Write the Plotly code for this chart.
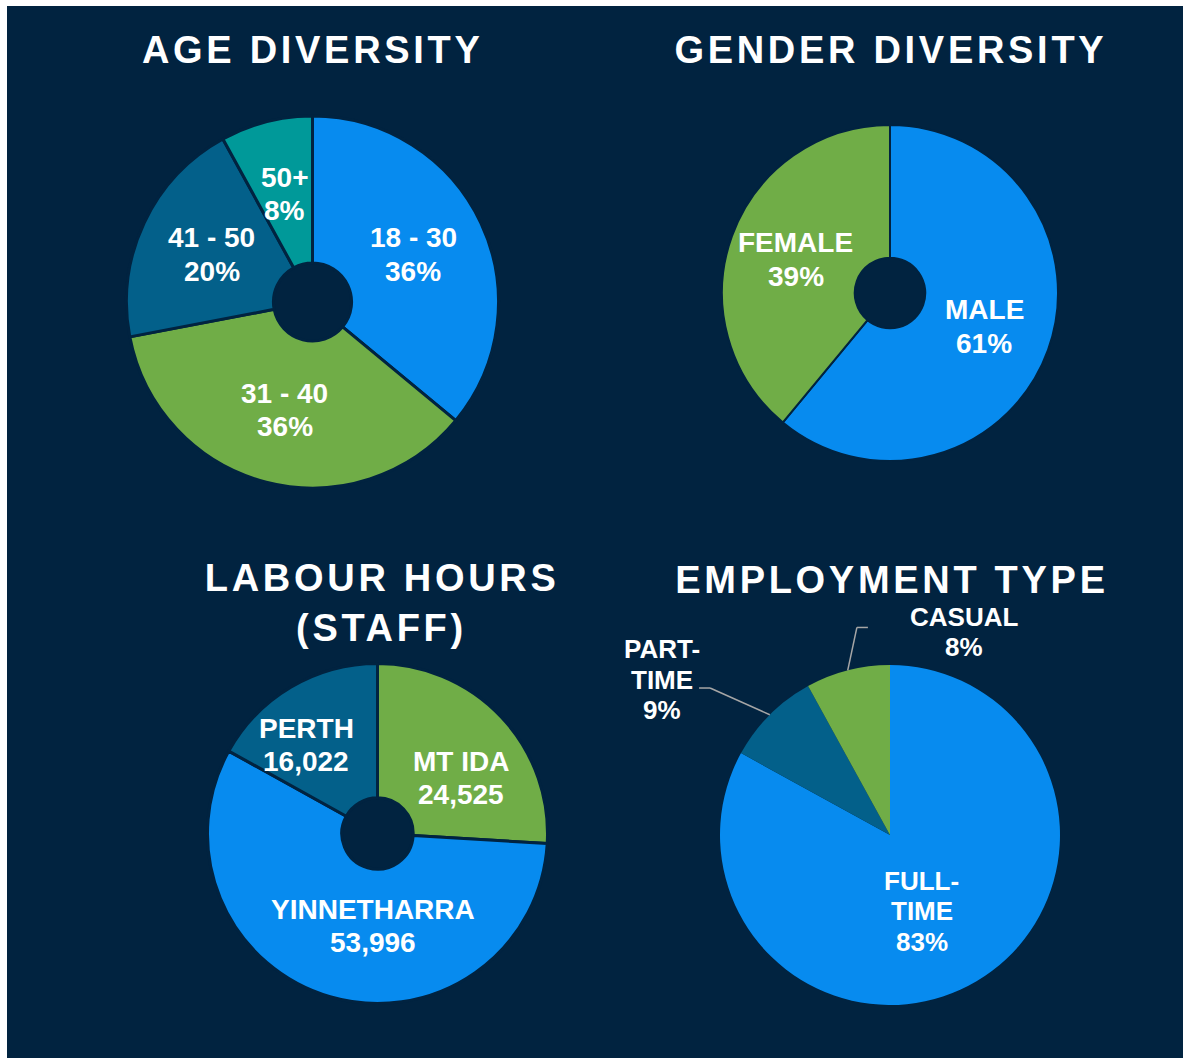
import math
import plotly.graph_objects as go

W, H = 1183, 1058

# ---------------- data ----------------
age_labels = ["18 - 30", "31 - 40", "41 - 50", "50+"]
age_values = [36, 36, 20, 8]

gender_labels = ["MALE", "FEMALE"]
gender_values = [61, 39]

labour_labels = ["MT IDA", "YINNETHARRA", "PERTH"]
labour_values = [24525, 53996, 16022]

emp_labels = ["FULL-TIME", "PART-TIME", "CASUAL"]
emp_values = [83, 9, 8]

# ---------------- style ----------------
BG = "#012340"
BLUE = "#078BEF"
GREEN = "#70AD47"
DARK = "#03608A"
TEAL = "#009999"
FONT = "Arial, 'Liberation Sans', sans-serif"


def pct_text(vals):
    s = sum(vals)
    return [f"{v / s * 100:.0f}%" for v in vals]


def num_text(vals):
    return [f"{v:,}" for v in vals]


def split_hyphen(name):
    if "-" in name and " - " not in name:
        a, b = name.split("-", 1)
        return [a + "-", b]
    return [name]


charts = [
    dict(title=["AGE DIVERSITY"], title_pos=(313, 50),
         labels=age_labels, values=age_values, vtext=pct_text(age_values),
         colors=[BLUE, GREEN, DARK, TEAL], center=(312.5, 302), r=184.5,
         hole=0.21, lw=3, fsize=28, spacing=33.5,
         place=[None, None, None, None], rfrac=0.605),
    dict(title=["GENDER DIVERSITY"], title_pos=(891, 50),
         labels=gender_labels, values=gender_values, vtext=pct_text(gender_values),
         colors=[BLUE, GREEN], center=(890, 293), r=167,
         hole=0.21, lw=2, fsize=28, spacing=34,
         place=[None, None], rfrac=0.6),
    dict(title=["LABOUR HOURS", "(STAFF)"], title_pos=(382, 578),
         labels=labour_labels, values=labour_values, vtext=num_text(labour_values),
         colors=[GREEN, BLUE, DARK], center=(377.5, 833.5), r=168.5,
         hole=0.21, lw=3, fsize=28, spacing=33,
         place=[(56.2, 0.594), (183.1, 0.548), (321.3, 0.676)], rfrac=0.6),
    dict(title=["EMPLOYMENT TYPE"], title_pos=(892, 580),
         labels=emp_labels, values=emp_values, vtext=pct_text(emp_values),
         colors=[BLUE, DARK, GREEN], center=(890, 835), r=170,
         hole=0, lw=0, fsize=26, spacing=30.5,
         place=[(157.2, 0.485), (304.3, 1.623), (20.0, 1.271)], rfrac=0.6,
         leaders=[None, [(37, 8.5), (48, 8.5)], [(-96, -4.5), (-107, -4.5)]]),
]

fig = go.Figure()
annotations = []
shapes = []


def P(px, py):
    return px / W, 1 - py / H


for ch in charts:
    cx, cy = ch["center"]
    r = ch["r"] + ch["lw"] / 2
    x0, y0 = P(cx - r, cy + r)
    x1, y1 = P(cx + r, cy - r)
    fig.add_trace(go.Pie(
        labels=ch["labels"], values=ch["values"], sort=False,
        direction="clockwise", rotation=0, hole=ch["hole"],
        marker=dict(colors=ch["colors"], line=dict(color=BG, width=ch["lw"])),
        textinfo="none", hoverinfo="label+value", showlegend=False,
        domain=dict(x=[x0, x1], y=[y0, y1]),
    ))

    # title
    tx, ty = ch["title_pos"]
    for i, line in enumerate(ch["title"]):
        ax, ay = P(tx, ty + i * 50)
        annotations.append(dict(
            x=ax, y=ay, xref="paper", yref="paper", text=line, showarrow=False,
            xanchor="center", yanchor="middle",
            font=dict(family=FONT, size=38, color="white", weight="bold")))

    # labels
    total = sum(ch["values"])
    cum = 0
    leaders = ch.get("leaders", [None] * len(ch["values"]))
    for i, v in enumerate(ch["values"]):
        mid = (cum + v / 2) / total * 360
        cum += v
        if ch["place"][i] is None:
            b, rf = mid, ch["rfrac"]
        else:
            b, rf = ch["place"][i]
        lx = cx + rf * ch["r"] * math.sin(math.radians(b))
        ly = cy - rf * ch["r"] * math.cos(math.radians(b))
        lines = split_hyphen(ch["labels"][i]) + [ch["vtext"][i]]
        n = len(lines)
        for j, t in enumerate(lines):
            yy = ly + (j - (n - 1) / 2) * ch["spacing"]
            ax, ay = P(lx, yy)
            annotations.append(dict(
                x=ax, y=ay, xref="paper", yref="paper", text=t, showarrow=False,
                xanchor="center", yanchor="middle",
                font=dict(family=FONT, size=ch["fsize"], color="white", weight="bold")))
        if leaders[i] is not None:
            ex = cx + ch["r"] * math.sin(math.radians(mid))
            ey = cy - ch["r"] * math.cos(math.radians(mid))
            pts = [(lx + dx, ly + dy) for dx, dy in leaders[i]] + [(ex, ey)]
            for (ax0, ay0), (ax1, ay1) in zip(pts[:-1], pts[1:]):
                p0 = P(ax0, ay0)
                p1 = P(ax1, ay1)
                shapes.append(dict(type="line", xref="paper", yref="paper",
                                   x0=p0[0], y0=p0[1], x1=p1[0], y1=p1[1],
                                   line=dict(color="#A6A6A6", width=1.5)))

# white border strips (top & left)
shapes.append(dict(type="rect", xref="paper", yref="paper", x0=0, x1=1,
                   y0=1 - 6 / H, y1=1.001, fillcolor="white", line=dict(width=0)))
shapes.append(dict(type="rect", xref="paper", yref="paper", x0=-0.001, x1=7 / W,
                   y0=0, y1=1, fillcolor="white", line=dict(width=0)))

fig.update_layout(
    width=W, height=H, margin=dict(l=0, r=0, t=0, b=0),
    paper_bgcolor=BG, plot_bgcolor=BG,
    annotations=annotations, shapes=shapes, showlegend=False,
)

post = """
document.body.style.margin = '0';
document.body.style.padding = '0';
document.body.style.overflow = 'hidden';
var gd = document.getElementById('{plot_id}');
function ls(){
  gd.querySelectorAll('.annotation-text').forEach(function(t){
    if (parseFloat(t.style.fontSize) >= 34) { t.style.letterSpacing = '3.7px'; }
  });
}
ls();
if (gd.on) { gd.on('plotly_afterplot', ls); }
"""

fig.write_html("out.html", post_script=post, config={"displayModeBar": False})
